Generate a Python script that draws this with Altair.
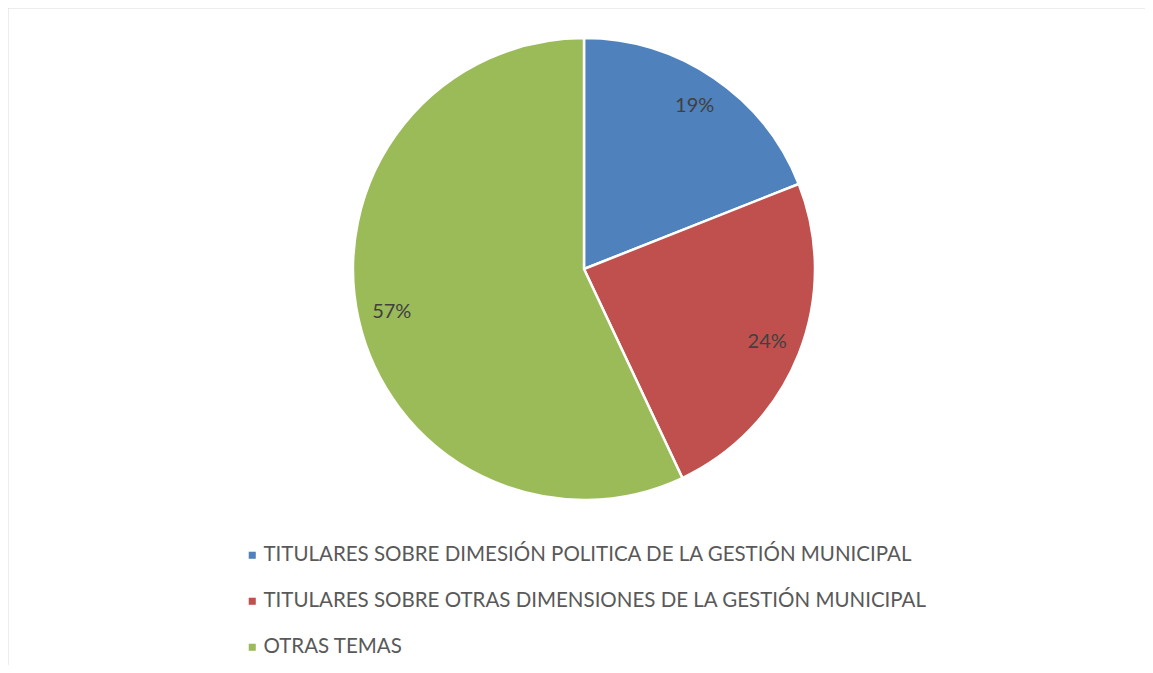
import altair as alt
import pandas as pd

categories = [
    "TITULARES SOBRE DIMESIÓN POLITICA DE LA GESTIÓN MUNICIPAL",
    "TITULARES SOBRE OTRAS DIMENSIONES DE LA GESTIÓN MUNICIPAL",
    "OTRAS TEMAS",
]
values = [19, 24, 57]
labels = ["19%", "24%", "57%"]
colors = ["#4F81BD", "#C0504D", "#9BBB59"]

df = pd.DataFrame({"cat": categories, "val": values, "lab": labels, "ord": [0, 1, 2]})

W, H = 1137, 657
CX, CY, R = 576, 261, 231

base = alt.Chart(df).encode(
    theta=alt.Theta("val:Q", stack=True),
    order=alt.Order("ord:Q"),
)

arcs = base.mark_arc(stroke="white", strokeWidth=2.5).encode(
    color=alt.Color(
        "cat:N",
        scale=alt.Scale(domain=categories, range=colors),
        sort=categories,
        legend=alt.Legend(
            title=None,
            orient="none",
            legendX=234,
            legendY=537,
            symbolType="square",
            symbolSize=50,
            symbolStrokeWidth=0,
            labelFontSize=20.5,
            labelFont="Lato",
            labelColor="#595959",
            labelLimit=900,
            rowPadding=25,
            labelOffset=1,
        ),
    ),
    x=alt.value(CX),
    y=alt.value(CY),
    radius=alt.value(R),
)

texts = base.mark_text(fontSize=20, font="Lato", color="#404040").encode(
    text="lab:N",
    x=alt.value(CX),
    y=alt.value(CY),
    radius=alt.value(197),
)

border_df = pd.DataFrame({"k": [0]})
border_top = alt.Chart(border_df).mark_rule(color="#D9D9D9", strokeWidth=2).encode(
    x=alt.value(-1), x2=alt.value(W + 20), y=alt.value(-0.5)
)
border_left = alt.Chart(border_df).mark_rule(color="#D9D9D9", strokeWidth=2).encode(
    x=alt.value(-0.5), y=alt.value(-1), y2=alt.value(H + 20)
)

chart = (
    alt.layer(border_top, border_left, arcs, texts)
    .properties(width=W, height=H, padding=0, autosize=alt.AutoSizeParams(type="none"))
    .configure_view(stroke=None)
)

chart.save("out.html", embed_options={"renderer": "svg", "actions": False})
